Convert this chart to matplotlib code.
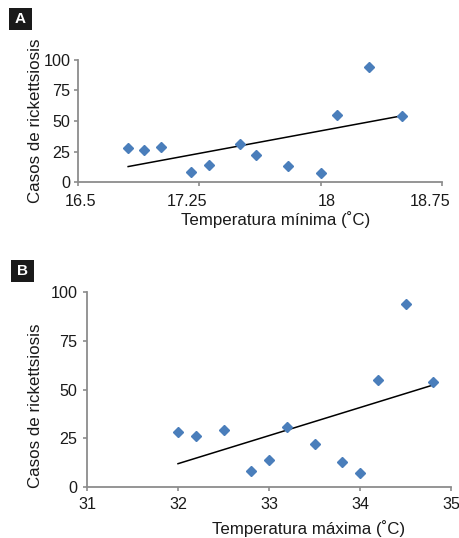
import numpy as np
import matplotlib.pyplot as plt
from matplotlib.patches import Rectangle
from matplotlib.transforms import ScaledTranslation

plt.rcParams['font.family'] = ['Liberation Sans', 'DejaVu Sans']

# datos mensuales
casos = [28, 26, 29, 8, 14, 31, 22, 13, 7, 55, 94, 54]
temp_min = [16.81, 16.91, 17.01, 17.2, 17.31, 17.5, 17.6, 17.8, 18.0, 18.1, 18.3, 18.5]
temp_max = [32.0, 32.2, 32.5, 32.8, 33.0, 33.2, 33.5, 33.8, 34.0, 34.2, 34.5, 34.8]

xticks_a = [16.5, 17.25, 18, 18.75]
xtick_labels_a = ['16.5', '17.25', '18', '18.75']
xticks_b = [31, 32, 33, 34, 35]
yticks = [0, 25, 50, 75, 100]

W, H = 459, 538
fig = plt.figure(figsize=(W / 100, H / 100), dpi=100)

BLUE = '#4a7ebb'
GRAY = '#8c8c8c'
TXT = '#1a1a1a'


def panel(rect, x, y, xticks, xlabels, xlim, xlabel, xlab_pos, ylab_pos,
          xpad, ypad, label_shift=None):
    ax = fig.add_axes(rect)
    ax.plot(x, y, 'D', color=BLUE, ms=5.2, mec=BLUE, clip_on=False, zorder=3)
    # recta de regresion lineal
    m, b = np.polyfit(x, y, 1)
    xs = np.array([min(x), max(x)])
    ax.plot(xs, m * xs + b, color='black', lw=1.1, zorder=2)
    ax.set_xlim(*xlim)
    ax.set_ylim(0, 100)
    ax.set_xticks(xticks)
    ax.set_xticklabels(xlabels)
    ax.set_yticks(yticks)
    for s in ['top', 'right']:
        ax.spines[s].set_visible(False)
    for s in ['left', 'bottom']:
        ax.spines[s].set_color(GRAY)
        ax.spines[s].set_linewidth(1.3)
    ax.tick_params(axis='both', colors=GRAY, labelcolor=TXT, labelsize=11.6,
                   length=3, width=1.2, direction='out')
    ax.tick_params(axis='x', pad=xpad)
    ax.tick_params(axis='y', pad=ypad)
    if label_shift:
        # desplazamiento horizontal de las etiquetas como en el original
        for lab, dx in zip(ax.get_xticklabels(), label_shift):
            lab.set_transform(lab.get_transform() +
                              ScaledTranslation(dx / 100, 0, fig.dpi_scale_trans))
    ax.set_xlabel(xlabel, fontsize=12.2, color=TXT)
    ax.set_ylabel('Casos de rickettsiosis', fontsize=12.2, color=TXT)
    ax.xaxis.set_label_coords(*xlab_pos)
    ax.yaxis.set_label_coords(*ylab_pos)
    return ax


def px_rect(l, t, r, b):
    return [l / W, 1 - b / H, (r - l) / W, (b - t) / H]


panel(px_rect(78, 60, 442, 182), temp_min, casos, xticks_a, xtick_labels_a,
      (16.5, 18.75), 'Temperatura mínima (˚C)', (0.544, -0.235), (-0.097, 0.5),
      xpad=6, ypad=2.5, label_shift=[3, -12, 6, -12])
panel(px_rect(87, 292, 451, 487), temp_max, casos, xticks_b, [str(t) for t in xticks_b],
      (31, 35), 'Temperatura máxima (˚C)', (0.61, -0.17), (-0.122, 0.415),
      xpad=4, ypad=4)

# etiquetas de panel
for letter, (l, t) in [('A', (9, 8)), ('B', (11, 260))]:
    fig.patches.append(Rectangle((l / W, 1 - (t + 22) / H), 23 / W, 22 / H,
                                 transform=fig.transFigure, facecolor=TXT,
                                 edgecolor='none'))
    fig.text((l + 11.5) / W, 1 - (t + 11) / H, letter, color='white', fontsize=11,
             fontweight='bold', ha='center', va='center')

fig.savefig('out.png', dpi=100)
